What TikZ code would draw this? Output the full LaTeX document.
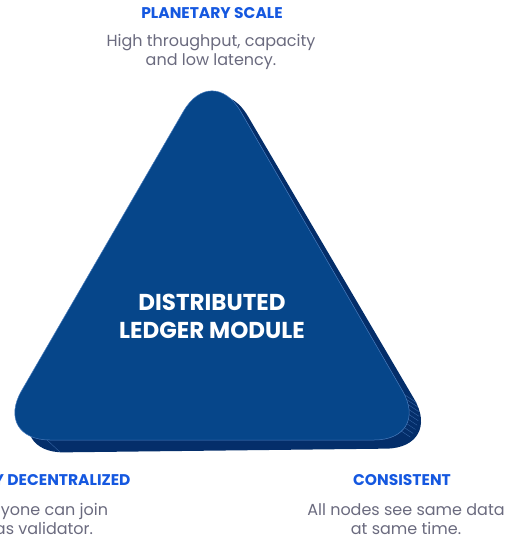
\documentclass[tikz,border=0pt]{standalone}
\usepackage{fontspec}
\setmainfont{Poppins}
\definecolor{titleblue}{HTML}{1558E0}
\definecolor{bodygray}{HTML}{6A6A7E}
\definecolor{frontblue}{HTML}{06468A}
\definecolor{sideblue}{HTML}{042E6A}
\definecolor{edgeblue}{HTML}{4A7DBE}
\tikzset{
  ttl/.style={text=titleblue, font=\bfseries\fontsize{15.5}{18}\selectfont, inner sep=0pt},
  bodytxt/.style={text=bodygray, font=\fontsize{16}{19.5}\selectfont, inner sep=0pt, align=center},
  centertxt/.style={text=white, font=\bfseries\fontsize{23}{28}\selectfont, inner sep=0pt, align=center},
  hatch/.style={edgeblue, line width=0.4pt, opacity=0.7}
}
\begin{document}
\begin{tikzpicture}[x=1pt,y=-1pt]
\useasboundingbox (0,0) rectangle (519,538);
\clip (0,0) rectangle (519,538);
% side (extrusion)
\fill[sideblue, rounded corners=57pt] (219,67) -- (7,453) -- (443,448) -- cycle;
% hatch lines on the bottom-right corner
\foreach \a in {-22,-14,...,42} {
  \draw[hatch] ({373.8+33*cos(\a)},{407+33*sin(\a)}) -- ({385.8+33*cos(\a)},{415+33*sin(\a)});
}
\draw[hatch] (47,440) -- (60,452);
% front face
\fill[frontblue, rounded corners=57pt] (212,62) -- (-7,440) -- (431,440) -- cycle;
\draw[edgeblue, line width=0.5pt, rounded corners=57pt] (212,62) -- (-7,440) -- (431,440) -- cycle;
\node[centertxt] (core) at (212,316) {DISTRIBUTED\\LEDGER MODULE};
% top
\node[ttl] (t1) at (212,13) {PLANETARY SCALE};
\node[bodytxt] (b1) at (211,52) {High throughput, capacity\\and low latency.};
% left
\node[ttl] (t2) at (45,480) {FULLY DECENTRALIZED};
\node[bodytxt] (b2) at (44,519) {Anyone can join\\as validator.};
% right
\node[ttl] (t3) at (402,480) {CONSISTENT};
\node[bodytxt] (b3) at (406,519) {All nodes see same data\\at same time.};
\end{tikzpicture}
\end{document}
